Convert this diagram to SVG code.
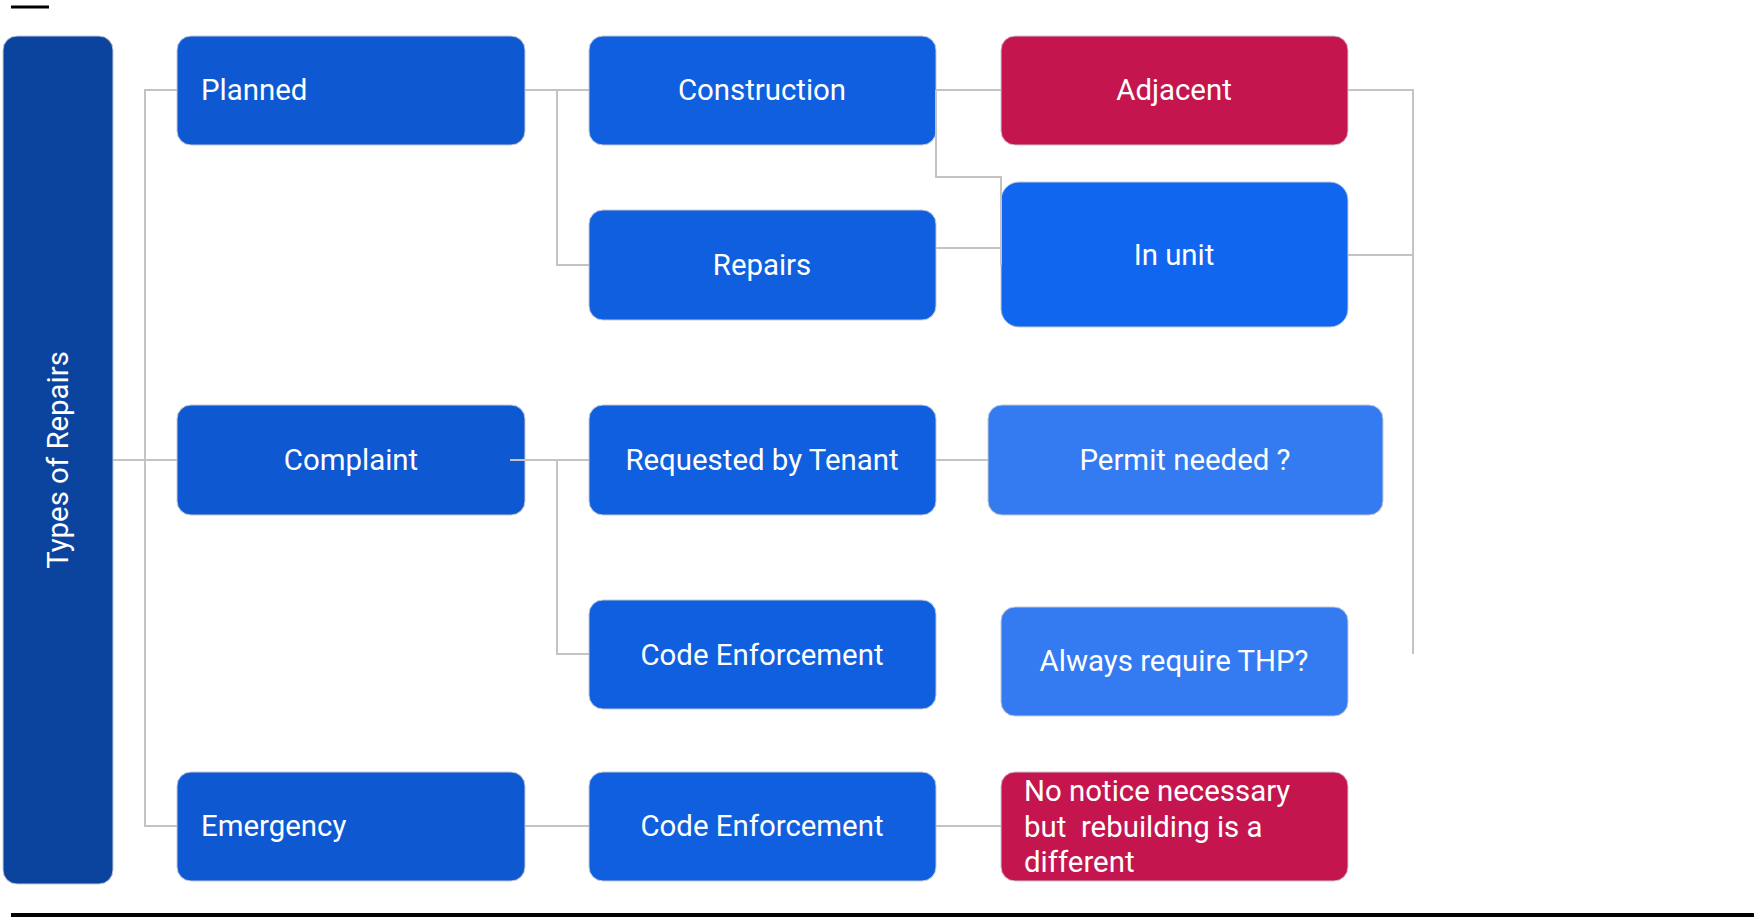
<svg xmlns="http://www.w3.org/2000/svg" width="1754" height="919" viewBox="0 0 1754 919">
<style>
.n rect{stroke:#c6c9d6;stroke-width:1}
.t{font-family:Roboto,"Liberation Sans",sans-serif;font-size:29.4px;fill:#ffffff;dominant-baseline:central;white-space:pre}
.c{text-anchor:middle}
.d{fill:#0E59D2}
.m{fill:#0F5FDE}
.b{fill:#1066EF}
.l{fill:#347BF2}
.r{fill:#C4154E}
.k{fill:none;stroke:#c3c3c3;stroke-width:2}
</style>
<rect width="1754" height="919" fill="#ffffff"/>
<line x1="11" y1="7" x2="49" y2="7" stroke="#000" stroke-width="3"/>
<line x1="11" y1="915" x2="1754" y2="915" stroke="#000" stroke-width="4"/>
<g id="root" class="n"><rect x="3" y="36" width="110" height="848" rx="14" fill="#0B449E"/><text class="t c" transform="translate(58 460) rotate(-90)">Types of Repairs</text></g>
<g id="planned" class="n"><rect class="d" x="177" y="36" width="348" height="109" rx="14"/><text class="t" x="201" y="90">Planned</text></g>
<g id="construction" class="n"><rect class="m" x="589" y="36" width="347" height="109" rx="14"/><text class="t c" x="762" y="90">Construction</text></g>
<g id="adjacent" class="n"><rect class="r" x="1001" y="36" width="347" height="109" rx="14"/><text class="t c" x="1174" y="90">Adjacent</text></g>
<g id="repairs" class="n"><rect class="m" x="589" y="210" width="347" height="110" rx="14"/><text class="t c" x="762" y="265">Repairs</text></g>
<g id="inunit" class="n"><rect class="b" x="1001" y="182" width="347" height="145" rx="18"/><text class="t c" x="1174" y="255">In unit</text></g>
<g id="complaint" class="n"><rect class="d" x="177" y="405" width="348" height="110" rx="14"/><text class="t c" x="351" y="460">Complaint</text></g>
<g id="requested" class="n"><rect class="m" x="589" y="405" width="347" height="110" rx="14"/><text class="t c" x="762" y="460">Requested by Tenant</text></g>
<g id="permit" class="n"><rect class="l" x="988" y="405" width="395" height="110" rx="14"/><text class="t c" x="1185" y="460">Permit needed ?</text></g>
<g id="codeenf1" class="n"><rect class="m" x="589" y="600" width="347" height="109" rx="14"/><text class="t c" x="762" y="655">Code Enforcement</text></g>
<g id="always" class="n"><rect class="l" x="1001" y="607" width="347" height="109" rx="14"/><text class="t c" x="1174" y="661">Always require THP?</text></g>
<g id="emergency" class="n"><rect class="d" x="177" y="772" width="348" height="109" rx="14"/><text class="t" x="201" y="826">Emergency</text></g>
<g id="codeenf2" class="n"><rect class="m" x="589" y="772" width="347" height="109" rx="14"/><text class="t c" x="762" y="826">Code Enforcement</text></g>
<g id="nonotice" class="n"><rect class="r" x="1001" y="772" width="347" height="109" rx="14"/><text class="t" x="1024" y="791">No notice necessary</text><text class="t" x="1024" y="827" xml:space="preserve">but  rebuilding is a</text><text class="t" x="1024" y="862">different</text></g>
<g id="connectors" class="k">
<path d="M113 460H177"/>
<path d="M177 90H145V826H177"/>
<path d="M525 90H589"/>
<path d="M557 90V265H589"/>
<path d="M510 460H589"/>
<path d="M557 460V654H589"/>
<path d="M936 90H1001"/>
<path d="M936 90V177H1001V265"/>
<path d="M936 248H1001"/>
<path d="M1348 90H1413V654"/>
<path d="M1348 255H1413"/>
<path d="M936 460H988"/>
<path d="M525 826H589"/>
<path d="M936 826H1001"/>
</g>
</svg>
